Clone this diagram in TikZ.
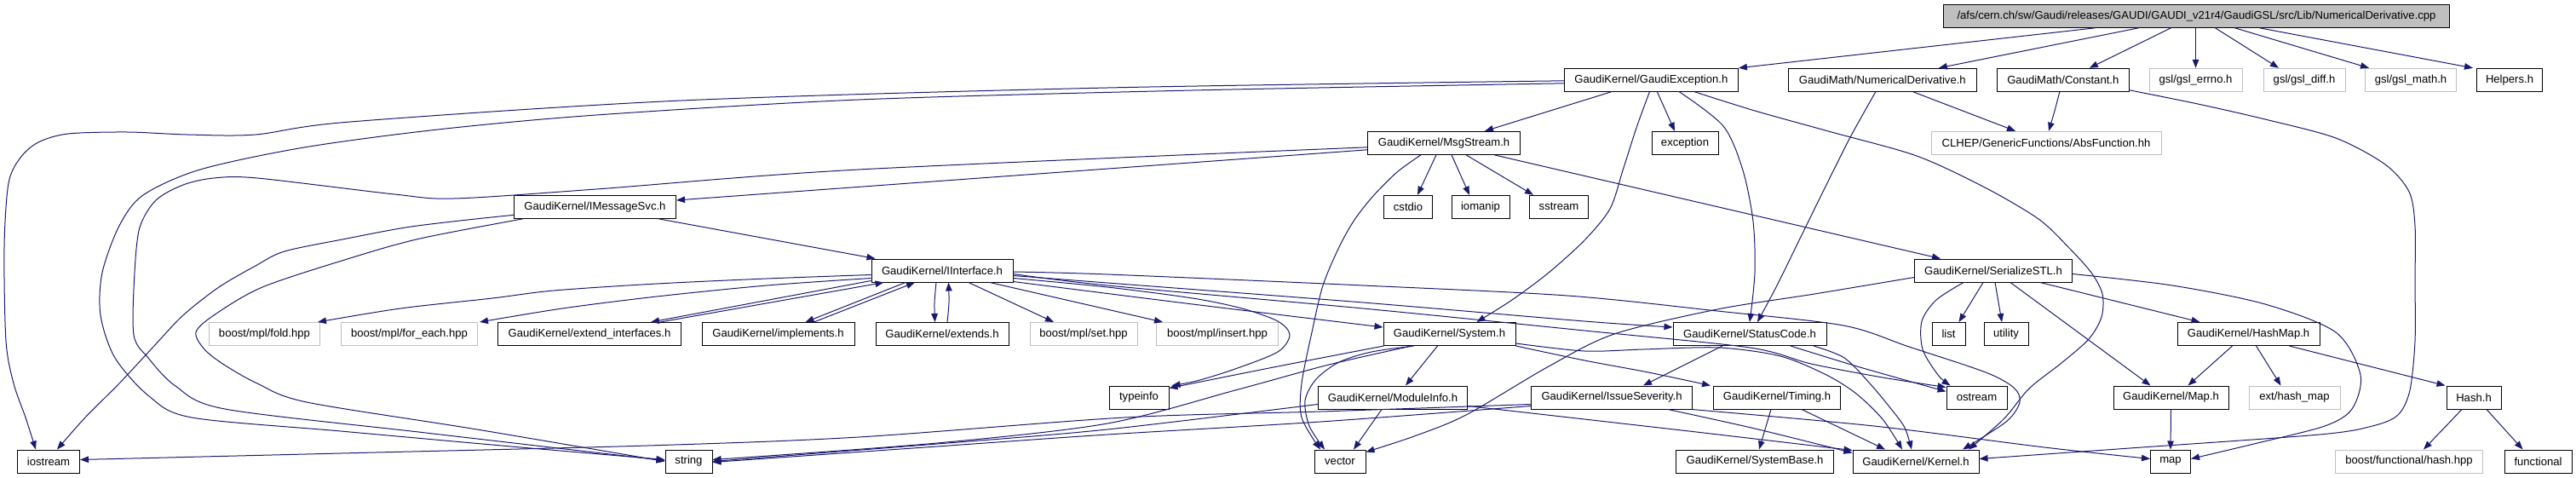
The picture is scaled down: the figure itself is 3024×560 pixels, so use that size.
\documentclass[tikz,border=0pt]{standalone}
\usepackage{fontspec}
\setmainfont{Liberation Sans}
\usetikzlibrary{arrows.meta}
\definecolor{edgeblue}{HTML}{191970}
\definecolor{extgray}{HTML}{BFBFBF}
\newcommand\dxfont{\fontsize{13.1}{15}\selectfont}
\tikzset{
  box/.style={draw=black, line width=1pt, rectangle, minimum height=27pt, inner sep=0pt, font=\dxfont, text=black},
  extbox/.style={box, draw=extgray},
  rootbox/.style={box, fill=extgray},
  edge/.style={draw=edgeblue, line width=1pt, -{Triangle[length=10pt,width=7.5pt]}},
}
\begin{document}
\begin{tikzpicture}[x=1pt,y=-1pt]
\useasboundingbox (0,0) rectangle (3024,560);
% row 0
\node[rootbox, minimum width=594pt] (root) at (2578.5,18.8) {/afs/cern.ch/sw/Gaudi/releases/GAUDI/GAUDI\_v21r4/GaudiGSL/src/Lib/NumericalDerivative.cpp};
% row 1
\node[box, minimum width=204pt] (ge) at (1938.4,93.8) {GaudiKernel/GaudiException.h};
\node[box, minimum width=221pt] (numder) at (2209.8,93.8) {GaudiMath/NumericalDerivative.h};
\node[box, minimum width=155pt] (constant) at (2421.8,93.8) {GaudiMath/Constant.h};
\node[extbox, minimum width=109pt] (gslerrno) at (2577.5,93.8) {gsl/gsl\_errno.h};
\node[extbox, minimum width=96pt] (gsldiff) at (2705,93.8) {gsl/gsl\_diff.h};
\node[extbox, minimum width=107.5pt] (gslmath) at (2830,93.8) {gsl/gsl\_math.h};
\node[box, minimum width=77pt] (helpers) at (2946,93.8) {Helpers.h};
% row 2
\node[box, minimum width=179pt] (msg) at (1695,167.8) {GaudiKernel/MsgStream.h};
\node[box, minimum width=78pt] (exception) at (1978,167.8) {exception};
\node[extbox, minimum width=270pt] (abs) at (2402,167.8) {CLHEP/GenericFunctions/AbsFunction.hh};
% row 3
\node[box, minimum width=190pt] (imsg) at (698.5,242.8) {GaudiKernel/IMessageSvc.h};
\node[box, minimum width=57pt] (cstdio) at (1653,242.8) {cstdio};
\node[box, minimum width=68pt] (iomanip) at (1738,242.8) {iomanip};
\node[box, minimum width=69pt] (sstream) at (1830,242.8) {sstream};
% row 4
\node[box, minimum width=166pt] (iint) at (1106,317.5) {GaudiKernel/IInterface.h};
\node[box, minimum width=185pt] (serial) at (2340,317.5) {GaudiKernel/SerializeSTL.h};
% row 5
\node[extbox, minimum width=130pt] (fold) at (310.5,392) {boost/mpl/fold.hpp};
\node[extbox, minimum width=160pt] (foreach) at (480.5,392) {boost/mpl/for\_each.hpp};
\node[box, minimum width=215pt] (extif) at (692,392) {GaudiKernel/extend\_interfaces.h};
\node[box, minimum width=179pt] (impl) at (913.5,392) {GaudiKernel/implements.h};
\node[box, minimum width=156pt] (extends) at (1106,392) {GaudiKernel/extends.h};
\node[extbox, minimum width=126pt] (mplset) at (1272,392) {boost/mpl/set.hpp};
\node[extbox, minimum width=143pt] (mplinsert) at (1429,392) {boost/mpl/insert.hpp};
\node[box, minimum width=155pt] (system) at (1701.5,392) {GaudiKernel/System.h};
\node[box, minimum width=180pt] (status) at (2054,392) {GaudiKernel/StatusCode.h};
\node[box, minimum width=39pt] (list) at (2287.5,392) {list};
\node[box, minimum width=52pt] (utility) at (2355,392) {utility};
\node[box, minimum width=167pt] (hashmap) at (2639.5,392) {GaudiKernel/HashMap.h};
% row 6
\node[box, minimum width=70pt] (typeinfo) at (1337,466.5) {typeinfo};
\node[box, minimum width=175.5pt] (modinfo) at (1635,466.5) {GaudiKernel/ModuleInfo.h};
\node[box, minimum width=189.5pt] (issue) at (1892,466.5) {GaudiKernel/IssueSeverity.h};
\node[box, minimum width=149pt] (timing) at (2086,466.5) {GaudiKernel/Timing.h};
\node[box, minimum width=71pt] (ostream) at (2320.5,466.5) {ostream};
\node[box, minimum width=135pt] (maph) at (2548.5,466.5) {GaudiKernel/Map.h};
\node[extbox, minimum width=107pt] (hashmapext) at (2693.5,466.5) {ext/hash\_map};
\node[box, minimum width=64pt] (hash) at (2904,466.5) {Hash.h};
% row 7
\node[box, minimum width=73pt] (iostream) at (57,541.5) {iostream};
\node[box, minimum width=55pt] (string) at (808.5,541.5) {string};
\node[box, minimum width=60pt] (vector) at (1573,541.5) {vector};
\node[box, minimum width=184.5pt] (sysbase) at (2060,541.5) {GaudiKernel/SystemBase.h};
\node[box, minimum width=148pt] (kernel) at (2249,541.5) {GaudiKernel/Kernel.h};
\node[box, minimum width=47pt] (map) at (2548,541.5) {map};
\node[extbox, minimum width=173pt] (bfhash) at (2828,541.5) {boost/functional/hash.hpp};
\node[box, minimum width=79pt] (functional) at (2979.5,541.5) {functional};

% ---- root edges
\draw[edge] ([xshift=-119pt]root.south) -- (ge.north east);
\draw[edge] ([xshift=-68pt]root.south) -- ([xshift=66pt]numder.north);
\draw[edge] ([xshift=-30pt]root.south) -- ([xshift=31pt]constant.north);
\draw[edge] ([xshift=-1pt]root.south) -- (gslerrno.north);
\draw[edge] ([xshift=22pt]root.south) -- ([xshift=-30pt]gsldiff.north);
\draw[edge] ([xshift=45pt]root.south) -- ([xshift=-49pt]gslmath.north);
\draw[edge] ([xshift=74pt]root.south) -- ([xshift=-43pt]helpers.north);

% ---- GaudiException edges
\draw[edge] plot[smooth,tension=0.5] coordinates {([yshift=-1pt]ge.west) (1300,103) (800,118) (411,143) (300,158) (220,158) (150,155) (80,157) (45,167) (24,185) (10,215) (5,290) (7,400) (16,450) (30,490) ([xshift=-15pt]iostream.north)};
\draw[edge] plot[smooth,tension=0.5] coordinates {([yshift=-4pt]ge.west) (1400,106) (1008,117) (700,135) (514,152) (357,173) (235,199) (168,229) (140,265) (120,320) (118,370) (135,420) (175,465) (225,490) (400,506) (600,524) ([yshift=2pt]string.west)};
\draw[edge] ([xshift=-47pt]ge.south) -- ([xshift=48pt]msg.north);
\draw[edge] ([xshift=7pt]ge.south) -- ([xshift=-12pt]exception.north);
\draw[edge] plot[smooth,tension=0.5] coordinates {([xshift=-2pt]ge.south) (1921,150) (1905,200) (1890,245) (1860,282) (1818,320) (1775,352) ([xshift=32pt]system.north)};
\draw[edge] plot[smooth,tension=0.5] coordinates {([xshift=33pt]ge.south) (2023,148) (2046,200) (2058,260) (2060,320) (status.north)};
\draw[edge] plot[smooth,tension=0.5] coordinates {([xshift=51pt]ge.south) (2060,130) (2150,155) (2250,183) (2330,220) (2393,257) (2428,290) (2455,320) (2468,345) (2467,372) (2452,398) (2420,426) (2382,456) (2352,492) ([xshift=62pt]kernel.north)};

% ---- NumericalDerivative / Constant
\draw[edge] ([xshift=36pt]numder.south) -- ([xshift=-36pt]abs.north);
\draw[edge] plot[smooth,tension=0.5] coordinates {([xshift=-8pt]numder.south) (2171,163) (2140,225) (2113,280) (2086,335) ([xshift=9pt]status.north)};
\draw[edge] plot[smooth,tension=0.5] coordinates {([xshift=-4pt]constant.south) (2412,130) ([xshift=3pt]abs.north)};
\draw[edge] plot[smooth,tension=0.5] coordinates {([yshift=-12pt]constant.east) (2580,122) (2659,140) (2742,162) (2800,193) (2828,225) (2835,265) (2835,330) (2835,400) (2829,458) (2815,487) (2785,500) (2723,510) (2500,526) ([yshift=3pt]kernel.east)};

% ---- MsgStream edges
\draw[edge] ([yshift=-8pt]msg.west) -- ([yshift=7.8pt]imsg.east);
\draw[edge] plot[smooth,tension=0.5] coordinates {([yshift=-5pt]msg.west) (1008,199) (700,222) (533,233) (463,228) (302,209) (251,209) (215,217) (183,235) (164,267) (158,320) (157,393) (174,420) (206,453) (264,480) (500,508) ([yshift=1pt]string.west)};
\draw[edge] plot[smooth,tension=0.5] coordinates {([xshift=-27pt]msg.south) (1640,202) (1612,230) (1590,258) (1572,290) (1553,335) (1540,390) (1528,450) (1528,490) ([xshift=-23pt]vector.north)};
\draw[edge] ([xshift=-9pt]msg.south) -- ([xshift=11pt]cstdio.north);
\draw[edge] ([xshift=9pt]msg.south) -- ([xshift=-13pt]iomanip.north);
\draw[edge] ([xshift=26pt]msg.south) -- ([xshift=-30pt]sstream.north);
\draw[edge] ([xshift=59pt]msg.south) -- ([xshift=-62pt]serial.north);

% ---- IMessageSvc edges
\draw[edge] ([xshift=74.5pt]imsg.south) -- ([xshift=5pt]iint.north west);
\draw[edge] plot[smooth,tension=0.5] coordinates {([yshift=-9.5pt]imsg.west) (540,259) (476,267) (407,280) (334,295) (300,312) (257,337) (215,370) (180,407) (140,450) (100,490) ([xshift=10pt]iostream.north)};
\draw[edge] plot[smooth,tension=0.5] coordinates {([xshift=-84.5pt]imsg.south) (493,280) (411,303) (308,337) (251,370) (230,390) (240,410) (263,428) (302,450) (360,472) (560,504) ([yshift=0pt]string.west)};

% ---- IInterface edges
\draw[edge] plot[smooth,tension=0.5] coordinates {([yshift=-5pt]iint.west) (900,327) (771,333) (650,341) (578,350) (470,362) ([xshift=-3pt]fold.north east)};
\draw[edge] plot[smooth,tension=0.5] coordinates {([yshift=-9pt]iint.west) (900,335) (771,348) (660,362) ([xshift=2pt]foreach.north east)};
\draw[edge] ([yshift=-12pt]iint.west) -- ([xshift=72pt]extif.north);
\draw[edge] ([xshift=83pt]extif.north) -- ([xshift=15pt]iint.south west);
\draw[edge] ([xshift=-43pt]iint.south) -- ([xshift=32pt]impl.north);
\draw[edge] ([xshift=42pt]impl.north) -- ([xshift=-32pt]iint.south);
\draw[edge] plot[smooth,tension=0.5] coordinates {([xshift=-7pt]iint.south) (1097,355) ([xshift=-8.5pt]extends.north)};
\draw[edge] plot[smooth,tension=0.5] coordinates {([xshift=6pt]extends.north) (1114,355) ([xshift=7.5pt]iint.south)};
\draw[edge] ([xshift=31pt]iint.south) -- ([xshift=-35pt]mplset.north);
\draw[edge] ([xshift=56pt]iint.south) -- ([xshift=-64pt]mplinsert.north);
\draw[edge] plot[smooth,tension=0.5] coordinates {([yshift=-9pt]iint.east) (1300,337) (1400,350) (1458,362) (1500,377) (1514,393) (1500,413) (1450,433) (1405,447) ([xshift=3pt]typeinfo.north east)};
\draw[edge] plot[smooth,tension=0.5] coordinates {([yshift=-13pt]iint.east) (1400,357) ([yshift=8pt]system.west)};
\draw[edge] plot[smooth,tension=0.5] coordinates {([yshift=-6pt]iint.east) (1300,332) (1600,355) (1860,377) ([yshift=8pt]status.west)};
\draw[edge] plot[smooth,tension=0.5] coordinates {([yshift=-4pt]iint.east) (1300,335) (1600,362) (1860,388) (2054,408) (2126,427) (2210,443) ([yshift=12pt]ostream.west)};
\draw[edge] plot[smooth,tension=0.5] coordinates {([yshift=-1.5pt]iint.east) (1300,322) (1600,335) (1840,347) (2016,365) (2164,382) (2241,407) (2331,437) (2364,455) (2371,472) (2355,495) ([xshift=55pt]kernel.north)};

% ---- System edges
\draw[edge] plot[smooth,tension=0.5] coordinates {([xshift=-77pt]system.south) (1500,430) ([yshift=-3pt]typeinfo.north east)};
\draw[edge] plot[smooth,tension=0.5] coordinates {([xshift=-44pt]system.south) (1560,428) (1450,458) (1300,497) (1100,520) ([yshift=2pt]string.east)};
\draw[edge] plot[smooth,tension=0.5] coordinates {([xshift=-42pt]system.south) (1610,413) (1572,425) (1545,445) (1532,470) (1537,500) ([xshift=-18pt]vector.north)};
\draw[edge] ([xshift=-14pt]system.south) -- ([xshift=15pt]modinfo.north);
\draw[edge] plot[smooth,tension=0.5] coordinates {([yshift=-14pt]system.east) (1860,423) (1935,437) ([xshift=-3pt]timing.north west)};
\draw[edge] plot[smooth,tension=0.5] coordinates {([yshift=-11pt]system.east) (1860,412) (1929,410) (2018,408) (2090,418) (2144,440) (2179,462) (2210,492) ([xshift=-16pt]kernel.north)};

% ---- StatusCode edges
\draw[edge] ([xshift=-32pt]status.south) -- ([xshift=37pt]issue.north);
\draw[edge] plot[smooth,tension=0.5] coordinates {([xshift=48pt]status.south) (2180,430) ([yshift=7pt]ostream.west)};
\draw[edge] plot[smooth,tension=0.5] coordinates {([xshift=75pt]status.south) (2165,420) (2195,450) (2220,480) (2236,502) ([xshift=-5pt]kernel.north)};

% ---- IssueSeverity edges
\draw[edge] plot[smooth,tension=0.5] coordinates {([xshift=66pt]issue.south) (2060,503) ([yshift=10pt]kernel.west)};
\draw[edge] plot[smooth,tension=0.5] coordinates {([yshift=-10pt]issue.west) (1550,495) (1300,510) (1100,524) ([yshift=-1pt]string.east)};
\draw[edge] plot[smooth,tension=0.5] coordinates {([yshift=-8pt]issue.west) (1550,483) (1320,490) (1008,513) (760,523) (400,532) ([yshift=2pt]iostream.east)};
\draw[edge] plot[smooth,tension=0.5] coordinates {([xshift=94pt]issue.south) (2200,500) (2400,525) ([yshift=3pt]map.west)};

% ---- ModuleInfo edges
\draw[edge] ([xshift=-13pt]modinfo.south) -- ([xshift=16pt]vector.north);
\draw[edge] plot[smooth,tension=0.5] coordinates {([yshift=-10pt]modinfo.east) (1860,492) (2000,508) ([yshift=13pt]kernel.west)};
\draw[edge] plot[smooth,tension=0.5] coordinates {([yshift=-8pt]modinfo.west) (1300,504) (1100,521) ([yshift=0pt]string.east)};

% ---- Timing edges
\draw[edge] ([xshift=-7pt]timing.south) -- ([xshift=5pt]sysbase.north);
\draw[edge] ([xshift=29pt]timing.south) -- ([xshift=-36pt]kernel.north);

% ---- SerializeSTL edges
\draw[edge] plot[smooth,tension=0.5] coordinates {([yshift=-8pt]serial.west) (2130,345) (2016,363) (1895,392) (1818,430) (1721,487) (1660,512) ([yshift=-3pt]vector.north east)};
\draw[edge] ([xshift=-12pt]serial.south) -- ([xshift=12pt]list.north);
\draw[edge] ([xshift=2pt]serial.south) -- ([xshift=-5pt]utility.north);
\draw[edge] plot[smooth,tension=0.5] coordinates {([xshift=-35pt]serial.south) (2273,352) (2256,377) (2257,410) (2275,440) ([xshift=-31pt]ostream.north)};
\draw[edge] ([xshift=20pt]serial.south) -- ([xshift=-24pt]maph.north);
\draw[edge] ([xshift=55pt]serial.south) -- ([xshift=-57pt]hashmap.north);
\draw[edge] plot[smooth,tension=0.5] coordinates {([yshift=-4pt]serial.east) (2550,335) (2659,357) (2742,390) (2771,440) (2761,480) (2729,500) (2650,520) ([yshift=3pt]map.east)};

% ---- HashMap, Map, Hash
\draw[edge] ([xshift=-19pt]hashmap.south) -- ([xshift=20pt]maph.north);
\draw[edge] ([xshift=9pt]hashmap.south) -- ([xshift=-16pt]hashmapext.north);
\draw[edge] ([xshift=48pt]hashmap.south) -- ([xshift=-1pt]hash.north west);
\draw[edge] (maph.south) -- (map.north);
\draw[edge] ([xshift=-14pt]hash.south) -- ([xshift=17pt]bfhash.north);
\draw[edge] ([xshift=15pt]hash.south) -- ([xshift=-18pt]functional.north);
\end{tikzpicture}
\end{document}
